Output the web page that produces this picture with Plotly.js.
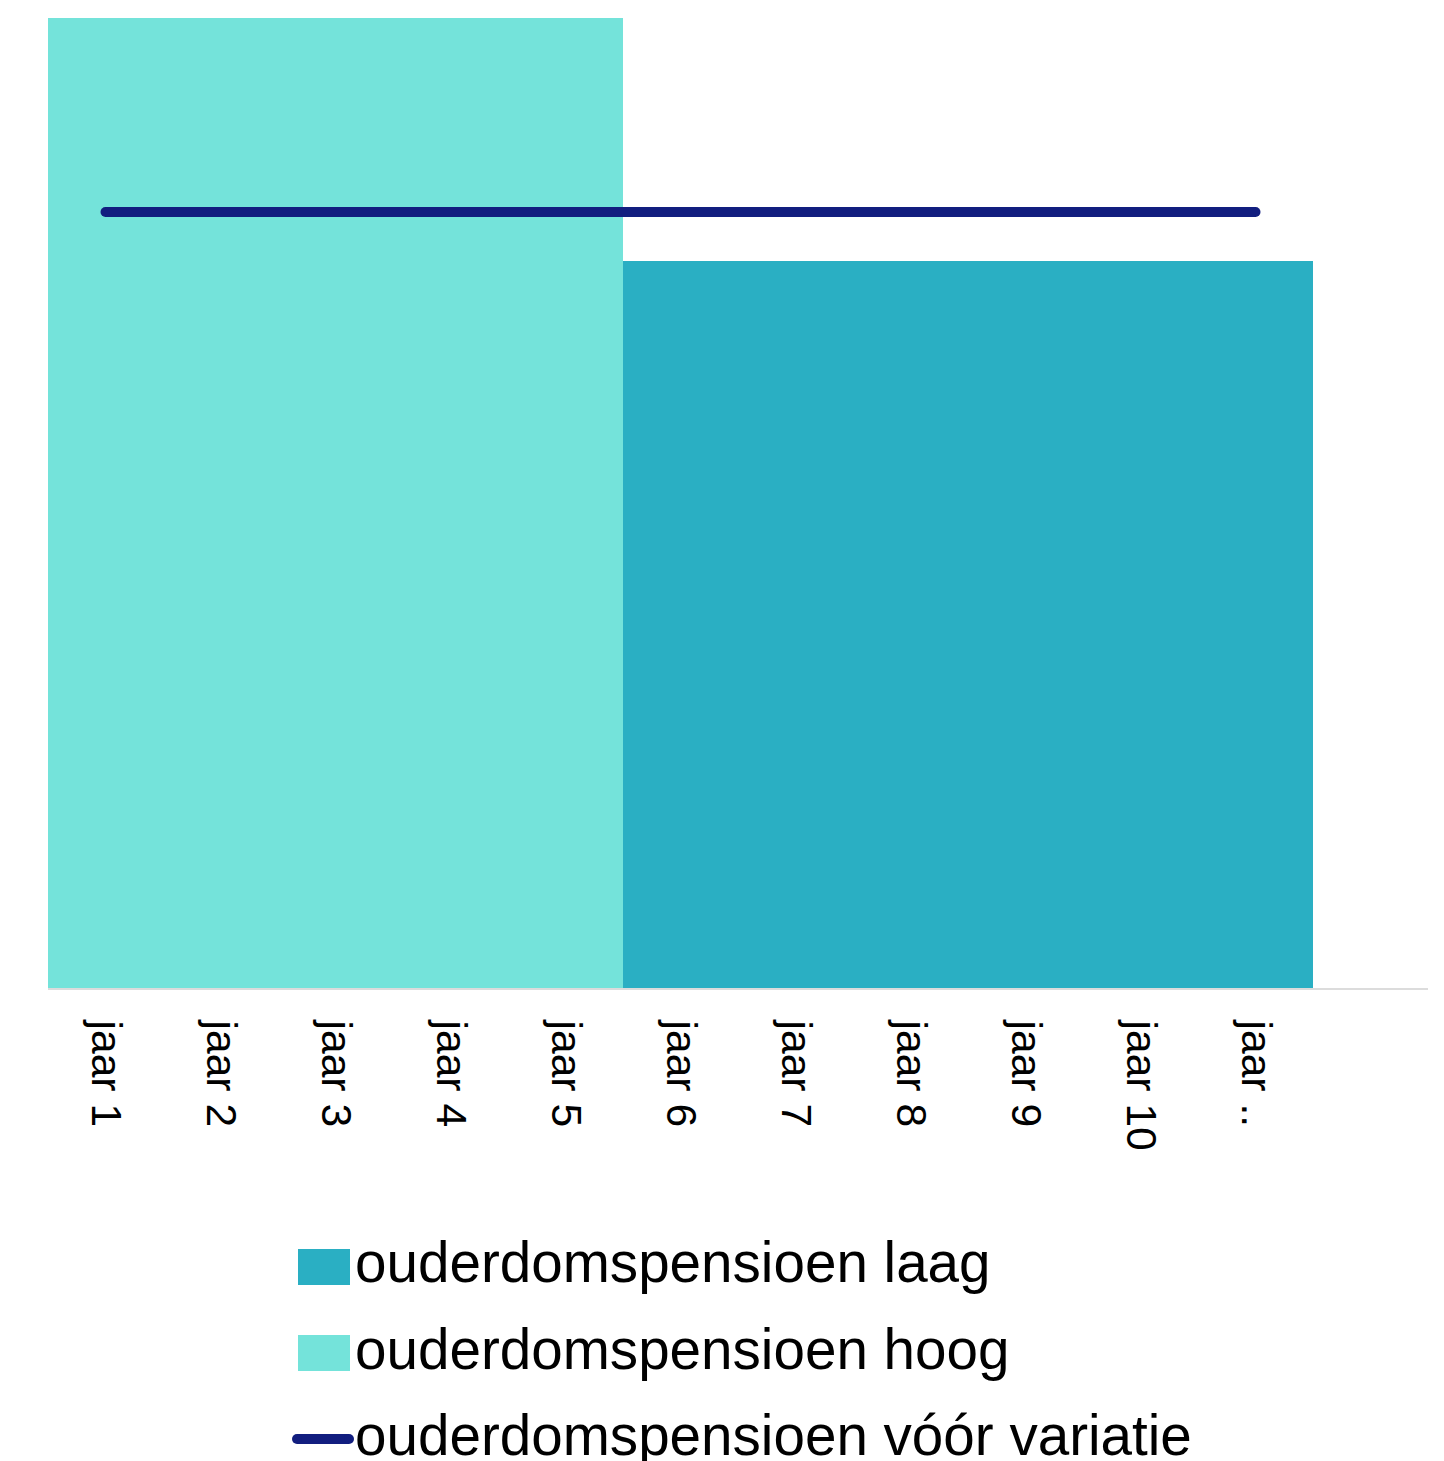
<!DOCTYPE html>
<html>
<head>
<meta charset="utf-8">
<script src="https://cdn.plot.ly/plotly-3.0.1.min.js"></script>
<style>
  html, body { margin: 0; padding: 0; background: #ffffff; }
  #chart { width: 1444px; height: 1461px; }
  /* rounded ends on the reference line */
  .scatterlayer path.js-line { stroke-linecap: round; }
</style>
</head>
<body>
<div id="chart"></div>
<script>
// Categories along the x axis
const categories = ['jaar 1', 'jaar 2', 'jaar 3', 'jaar 4', 'jaar 5', 'jaar 6',
                    'jaar 7', 'jaar 8', 'jaar 9', 'jaar 10', 'jaar ..'];

// Series values
const pensioenLaag = [null, null, null, null, null, 75, 75, 75, 75, 75, 75];
const pensioenHoog = [100, 100, 100, 100, 100, null, null, null, null, null, null];
const pensioenVoorVariatie = [80, 80, 80, 80, 80, 80, 80, 80, 80, 80, 80];

// Series names
const nameLaag = 'ouderdomspensioen laag';
const nameHoog = 'ouderdomspensioen hoog';
const nameVoor = 'ouderdomspensioen vóór variatie';

const colLaag = '#2aafc3';
const colHoog = '#74e3da';
const colVoor = '#121e7f';

const FONT = '"Liberation Sans", Arial, Helvetica, sans-serif';

// Plot-area geometry (pixels) used to place the legend in paper units
const M = { l: 48, r: 16, t: 18, b: 473 };
const W = 1444 - M.l - M.r;
const H = 1461 - M.t - M.b;
const px = x => (x - M.l) / W;
const py = y => (1461 - M.b - y) / H;

const traces = [
  {
    type: 'bar', name: nameLaag, x: categories, y: pensioenLaag,
    marker: { color: colLaag, line: { width: 0 } }, showlegend: false, hoverinfo: 'skip'
  },
  {
    type: 'bar', name: nameHoog, x: categories, y: pensioenHoog,
    marker: { color: colHoog, line: { width: 0 } }, showlegend: false, hoverinfo: 'skip'
  },
  {
    type: 'scatter', mode: 'lines', name: nameVoor, x: categories, y: pensioenVoorVariatie,
    line: { color: colVoor, width: 10 }, showlegend: false, hoverinfo: 'skip'
  }
];

// Legend built from swatches and text labels
const legendRows = [
  { kind: 'bar', name: nameLaag, color: colLaag, y: 1267 },
  { kind: 'bar', name: nameHoog, color: colHoog, y: 1353 },
  { kind: 'line', name: nameVoor, color: colVoor, y: 1439 }
];
const shapes = [];
const annotations = [];
legendRows.forEach(r => {
  if (r.kind === 'bar') {
    shapes.push({
      type: 'rect', xref: 'paper', yref: 'paper',
      x0: px(298), x1: px(350), y0: py(r.y - 18), y1: py(r.y + 18),
      fillcolor: r.color, line: { width: 0 }
    });
  } else {
    shapes.push({
      type: 'line', xref: 'paper', yref: 'paper',
      x0: px(297), x1: px(349), y0: py(r.y), y1: py(r.y),
      line: { color: r.color, width: 10 }
    });
    [297, 349].forEach(cx => shapes.push({
      type: 'circle', xref: 'paper', yref: 'paper',
      x0: px(cx - 5), x1: px(cx + 5), y0: py(r.y - 5), y1: py(r.y + 5),
      fillcolor: r.color, line: { width: 0 }
    }));
  }
  annotations.push({
    xref: 'paper', yref: 'paper', x: px(353), y: py(r.y - 4),
    xanchor: 'left', yanchor: 'middle', showarrow: false,
    text: r.name, font: { family: FONT, size: 56.6, color: '#000000' }
  });
});

const layout = {
  width: 1444, height: 1461,
  margin: M,
  paper_bgcolor: '#ffffff', plot_bgcolor: '#ffffff',
  barmode: 'overlay', bargap: 0,
  showlegend: false,
  font: { family: FONT, color: '#000000' },
  xaxis: {
    type: 'category', range: [-0.5, 11.5],
    showline: true, linecolor: '#dcdcdc', linewidth: 2,
    showgrid: false, zeroline: false, ticks: '',
    tickangle: 90, ticklabelstandoff: 22,
    tickfont: { family: FONT, size: 42.6, color: '#000000' }
  },
  yaxis: {
    range: [0, 100], showgrid: false, zeroline: false,
    showline: false, showticklabels: false, ticks: ''
  },
  shapes: shapes,
  annotations: annotations
};

Plotly.newPlot('chart', traces, layout, { displayModeBar: false, staticPlot: true });
</script>
</body>
</html>
